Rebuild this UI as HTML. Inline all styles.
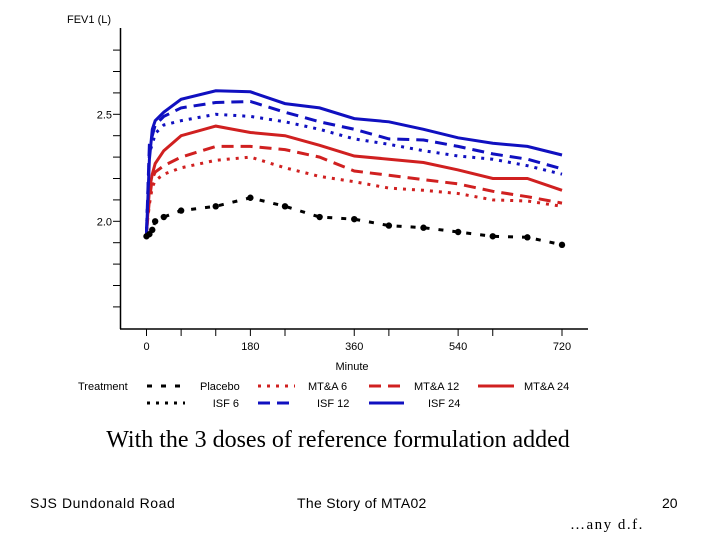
<!DOCTYPE html>
<html><head><meta charset="utf-8"><style>
body{margin:0;background:#fff;width:720px;height:540px;overflow:hidden;position:relative;font-family:"Liberation Sans",Arial,sans-serif}
.t{position:absolute;white-space:nowrap}
</style></head><body>
<svg id="chart" width="720" height="420" style="position:absolute;left:0;top:0" font-family="Liberation Sans, Arial, sans-serif"></svg>
<div class="t" style="left:0;width:676px;text-align:center;top:427px;font-family:'Liberation Serif',serif;font-size:24px">With the 3 doses of reference formulation added</div>
<div class="t" style="left:30px;top:495px;font-size:14px;letter-spacing:0.6px">SJS Dundonald Road</div>
<div class="t" style="left:297px;top:495px;font-size:14px;letter-spacing:0.3px">The Story of MTA02</div>
<div class="t" style="left:662px;top:495px;font-size:14px">20</div>
<div class="t" style="left:570px;top:517px;font-size:15px;letter-spacing:1.5px;font-family:'Liberation Serif',serif">…any d.f.</div>
<script>
const times=[0,5,10,15,30,60,120,180,240,300,360,420,480,540,600,660,720];
const placebo=[1.93,1.94,1.96,2.00,2.02,2.05,2.07,2.11,2.07,2.02,2.01,1.98,1.97,1.95,1.93,1.925,1.89];
const isf6=[1.96,2.32,2.36,2.41,2.45,2.47,2.50,2.49,2.465,2.43,2.385,2.36,2.33,2.305,2.29,2.26,2.22];
const isf12=[1.95,2.36,2.40,2.45,2.49,2.53,2.555,2.56,2.51,2.465,2.43,2.385,2.38,2.35,2.315,2.29,2.245];
const isf24=[1.94,2.29,2.43,2.47,2.51,2.57,2.61,2.605,2.55,2.53,2.48,2.465,2.43,2.39,2.365,2.35,2.31];
const mta6=[1.96,2.08,2.16,2.19,2.22,2.25,2.285,2.30,2.25,2.21,2.185,2.155,2.145,2.13,2.10,2.095,2.07];
const mta12=[1.95,2.10,2.20,2.23,2.26,2.30,2.35,2.35,2.335,2.30,2.235,2.215,2.195,2.175,2.14,2.115,2.085];
const mta24=[1.94,2.15,2.22,2.27,2.33,2.40,2.445,2.415,2.40,2.355,2.305,2.29,2.275,2.24,2.20,2.20,2.145];
const xTicks=[0,60,120,180,240,360,420,540,600,720];
const xLabels=[0,180,360,540,720];
const yTicks=[1.6,1.7,1.8,1.9,2.0,2.1,2.2,2.3,2.4,2.5,2.6,2.7,2.8];
const yLabels=["2.0","2.5"];
const X=t=>146.5+t*(562-146.5)/720;
const Y=v=>221.3-(v-2.0)*214;
const svg=document.getElementById('chart');
const NS='http://www.w3.org/2000/svg';
function mk(tag,at,parent){const e=document.createElementNS(NS,tag);for(const k in at)e.setAttribute(k,at[k]);(parent||svg).appendChild(e);return e;}
let e;
e=mk('line',{x1:120.5,y1:28,x2:120.5,y2:329,stroke:'#000','stroke-width':1.5});


e=mk('line',{x1:120,y1:329,x2:588,y2:329,stroke:'#000','stroke-width':1.5});


yTicks.forEach(v=>{e=mk('line',{x1:113,y1:Y(v),x2:120,y2:Y(v),stroke:'#000','stroke-width':1});

});
yLabels.forEach(s=>{e=mk('text',{x:112,y:Y(+s)+4,'font-size':11,'text-anchor':'end'});e.textContent=s;

});
xTicks.forEach(t=>{e=mk('line',{x1:X(t),y1:329,x2:X(t),y2:336,stroke:'#000','stroke-width':1});

});
xLabels.forEach(t=>{e=mk('text',{x:X(t),y:350,'font-size':11,'text-anchor':'middle'});e.textContent=t;

});
e=mk('text',{x:67,y:23,'font-size':11});e.textContent='FEV1 (L)';


e=mk('text',{x:352,y:370,'font-size':11,'text-anchor':'middle'});e.textContent='Minute';


const series=[
 {d:mta6,c:'#d02020',dash:'3,6',name:'mta-6'},
 {d:mta12,c:'#d02020',dash:'12,7',name:'mta-12'},
 {d:mta24,c:'#d02020',dash:'',name:'mta-24'},
 {d:isf6,c:'#1010c0',dash:'3,6',name:'isf-6'},
 {d:isf12,c:'#1010c0',dash:'12,7',name:'isf-12'},
 {d:isf24,c:'#1010c0',dash:'',name:'isf-24'},
 {d:placebo,c:'#000',dash:'5,9',name:'placebo'}];
series.forEach(s=>{
 const p=s.d.map((v,i)=>X(times[i]).toFixed(1)+','+Y(v).toFixed(1)).join(' ');
 e=mk('polyline',{points:p,fill:'none',stroke:s.c,'stroke-width':3,'stroke-dasharray':s.dash});
 
 
 if(s.name==='placebo'){s.d.forEach((v,i)=>{e=mk('circle',{cx:X(times[i]),cy:Y(v),r:3.2,fill:'#000'});
 
 });}
});
e=mk('text',{x:78,y:390,'font-size':11});e.textContent='Treatment';


const leg=[
 {x1:147,x2:185,y:386,c:'#000',dash:'5,9',label:'Placebo',tx:200,anchor:'start'},
 {x1:258,x2:295,y:386,c:'#d02020',dash:'3,6',label:'MT&A 6',tx:308,anchor:'start'},
 {x1:369,x2:403,y:386,c:'#d02020',dash:'12,7',label:'MT&A 12',tx:414,anchor:'start'},
 {x1:478,x2:514,y:386,c:'#d02020',dash:'',label:'MT&A 24',tx:524,anchor:'start'},
 {x1:147,x2:185,y:403,c:'#000',dash:'3,6',label:'ISF 6',tx:239,anchor:'end'},
 {x1:258,x2:292,y:403,c:'#1010c0',dash:'12,7',label:'ISF 12',tx:317,anchor:'start'},
 {x1:369,x2:404,y:403,c:'#1010c0',dash:'',label:'ISF 24',tx:428,anchor:'start'}];
leg.forEach(l=>{
 e=mk('line',{x1:l.x1,y1:l.y,x2:l.x2,y2:l.y,stroke:l.c,'stroke-width':3,'stroke-dasharray':l.dash});
 
 
 e=mk('text',{x:l.tx,y:l.y+4,'font-size':11,'text-anchor':l.anchor});e.textContent=l.label;
 
 
});
</script>
</body></html>
